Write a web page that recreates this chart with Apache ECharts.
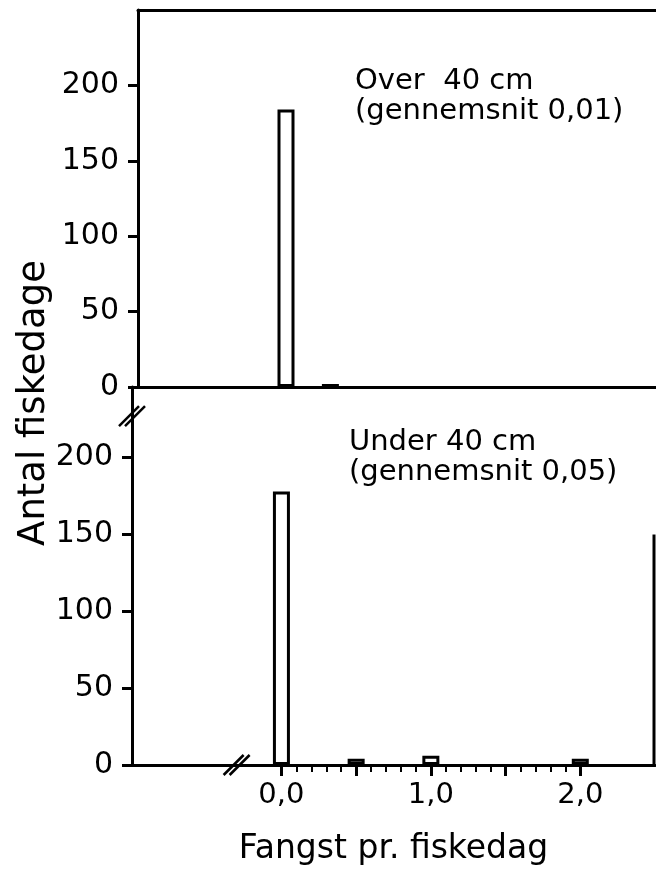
<!DOCTYPE html>
<html>
<head>
<meta charset="utf-8">
<script src="https://cdn.jsdelivr.net/npm/echarts@6/dist/echarts.min.js"></script>
<style>
html, body { margin: 0; padding: 0; background: #fff; }
#main { width: 656px; height: 870px; }
</style>
</head>
<body>
<div id="main"></div>
<script>
// data: [fangst pr. fiskedag, antal fiskedage]
var overBars = [[0, 184], [0.3, 2]];
var underBars = [[0, 178], [0.5, 4], [1.0, 6], [2.0, 4]];

// ticks
var yTicks = [0, 50, 100, 150, 200];
var xMajorTicks = [0, 0.5, 1.0, 1.5, 2.0];
var xMinorTicks = [0, 0.1, 0.2, 0.3, 0.4, 0.5, 0.6, 0.7, 0.8, 0.9, 1.0,
                   1.1, 1.2, 1.3, 1.4, 1.5, 1.6, 1.7, 1.8, 1.9, 2.0];
var xLabelValues = [0, 1, 2];
var xLabelText = ['0,0', '1,0', '2,0'];

var FONT = 'DejaVu Sans';
var INK = '#000';

var mychart = echarts.init(document.getElementById('main'));

var yAxisBase = {
    type: 'value',
    min: 0,
    interval: 50,
    splitLine: { show: false },
    axisLine: { show: true, onZero: false, lineStyle: { color: INK, width: 3 } },
    axisTick: { show: true, length: 10, customValues: yTicks, lineStyle: { color: INK, width: 3 } },
    axisLabel: {
        customValues: yTicks, margin: 19,
        color: INK, fontFamily: FONT, fontSize: 30
    }
};

var option = {
    animation: false,
    backgroundColor: '#fff',
    grid: [
        // top: over 40 cm
        { left: 138, top: 10, right: 0, height: 377 },
        // bottom: under 40 cm
        { left: 132, top: 387, right: 1, height: 378 }
    ],
    xAxis: [
        { gridIndex: 0, type: 'value', min: -1, max: 2.5, interval: 0.5, position: 'bottom',
          splitLine: { show: false },
          axisLine: { show: true, onZero: false, lineStyle: { color: INK, width: 3 } },
          axisTick: { show: false }, axisLabel: { show: false } },
        { gridIndex: 1, type: 'value', min: -1, max: 2.5, interval: 0.5, position: 'bottom',
          splitLine: { show: false },
          axisLine: { show: true, onZero: false, lineStyle: { color: INK, width: 3 } },
          axisTick: { show: true, length: 11, customValues: xMajorTicks, lineStyle: { color: INK, width: 3 } },
          axisLabel: {
              customValues: xLabelValues, margin: 16,
              color: INK, fontFamily: FONT, fontSize: 29,
              formatter: function (v) {
                  var i = xLabelValues.indexOf(Math.round(v));
                  return i >= 0 ? xLabelText[i] : '';
              }
          },
          name: 'Fangst pr. fiskedag', nameLocation: 'middle', nameGap: 68,
          nameTextStyle: { color: INK, fontFamily: FONT, fontSize: 33 } },
        // short ticks every 0,1
        { gridIndex: 1, type: 'value', min: -1, max: 2.5, interval: 0.5, position: 'bottom',
          splitLine: { show: false },
          axisLine: { show: false, onZero: false },
          axisTick: { show: true, length: 7, customValues: xMinorTicks, lineStyle: { color: INK, width: 2 } },
          axisLabel: { show: false } },
        // frame line on top of the upper panel
        { gridIndex: 0, type: 'value', min: -1, max: 2.5, interval: 0.5, position: 'top',
          splitLine: { show: false },
          axisLine: { show: true, onZero: false, lineStyle: { color: INK, width: 3 } },
          axisTick: { show: false }, axisLabel: { show: false } }
    ],
    yAxis: [
        Object.assign({}, yAxisBase, { gridIndex: 0, max: 250 }),
        Object.assign({}, yAxisBase, { gridIndex: 1, max: 246 })
    ],
    series: [
        { type: 'bar', xAxisIndex: 0, yAxisIndex: 0, data: overBars, barWidth: 17,
          itemStyle: { color: '#fff', borderColor: INK, borderWidth: 3 } },
        { type: 'bar', xAxisIndex: 1, yAxisIndex: 1, data: underBars, barWidth: 17,
          itemStyle: { color: '#fff', borderColor: INK, borderWidth: 3 } }
    ]
};

mychart.setOption(option);

// axis breaks, axis name, annotations
function breakMark(cx, cy) {
    var out = [];
    [-3, 3].forEach(function (d) {
        out.push({
            type: 'line', silent: true,
            shape: { x1: cx + d - 10, y1: cy + 10, x2: cx + d + 10, y2: cy - 10 },
            style: { stroke: INK, lineWidth: 2.5 }
        });
    });
    return out;
}

var xBreak = mychart.convertToPixel({ gridIndex: 1 }, [-0.3, 0]);
var yBreak = mychart.convertToPixel({ gridIndex: 1 }, [-1, 227]);
var rightTop = mychart.convertToPixel({ gridIndex: 1 }, [2.5, 150]);
var rightBottom = mychart.convertToPixel({ gridIndex: 1 }, [2.5, 0]);

var graphics = [].concat(breakMark(xBreak[0], xBreak[1]), breakMark(yBreak[0], yBreak[1]));
graphics.push({
    type: 'line', silent: true,
    shape: { x1: rightTop[0] - 1, y1: rightTop[1], x2: rightBottom[0] - 1, y2: rightBottom[1] },
    style: { stroke: INK, lineWidth: 3 }
});
graphics.push({
    type: 'text', x: 34, y: 403, rotation: Math.PI / 2,
    style: { text: 'Antal fiskedage', x: 0, y: 0, align: 'center', verticalAlign: 'middle',
             fill: INK, font: '37px "DejaVu Sans"' }
});
graphics.push({
    type: 'text', x: 355, y: 66,
    style: { text: 'Over  40 cm\n(gennemsnit 0,01)', fill: INK, font: '29px "DejaVu Sans"',
             lineHeight: 30, verticalAlign: 'top' }
});
graphics.push({
    type: 'text', x: 349, y: 427,
    style: { text: 'Under 40 cm\n(gennemsnit 0,05)', fill: INK, font: '29px "DejaVu Sans"',
             lineHeight: 30, verticalAlign: 'top' }
});

mychart.setOption({ graphic: graphics });
</script>
</body>
</html>
